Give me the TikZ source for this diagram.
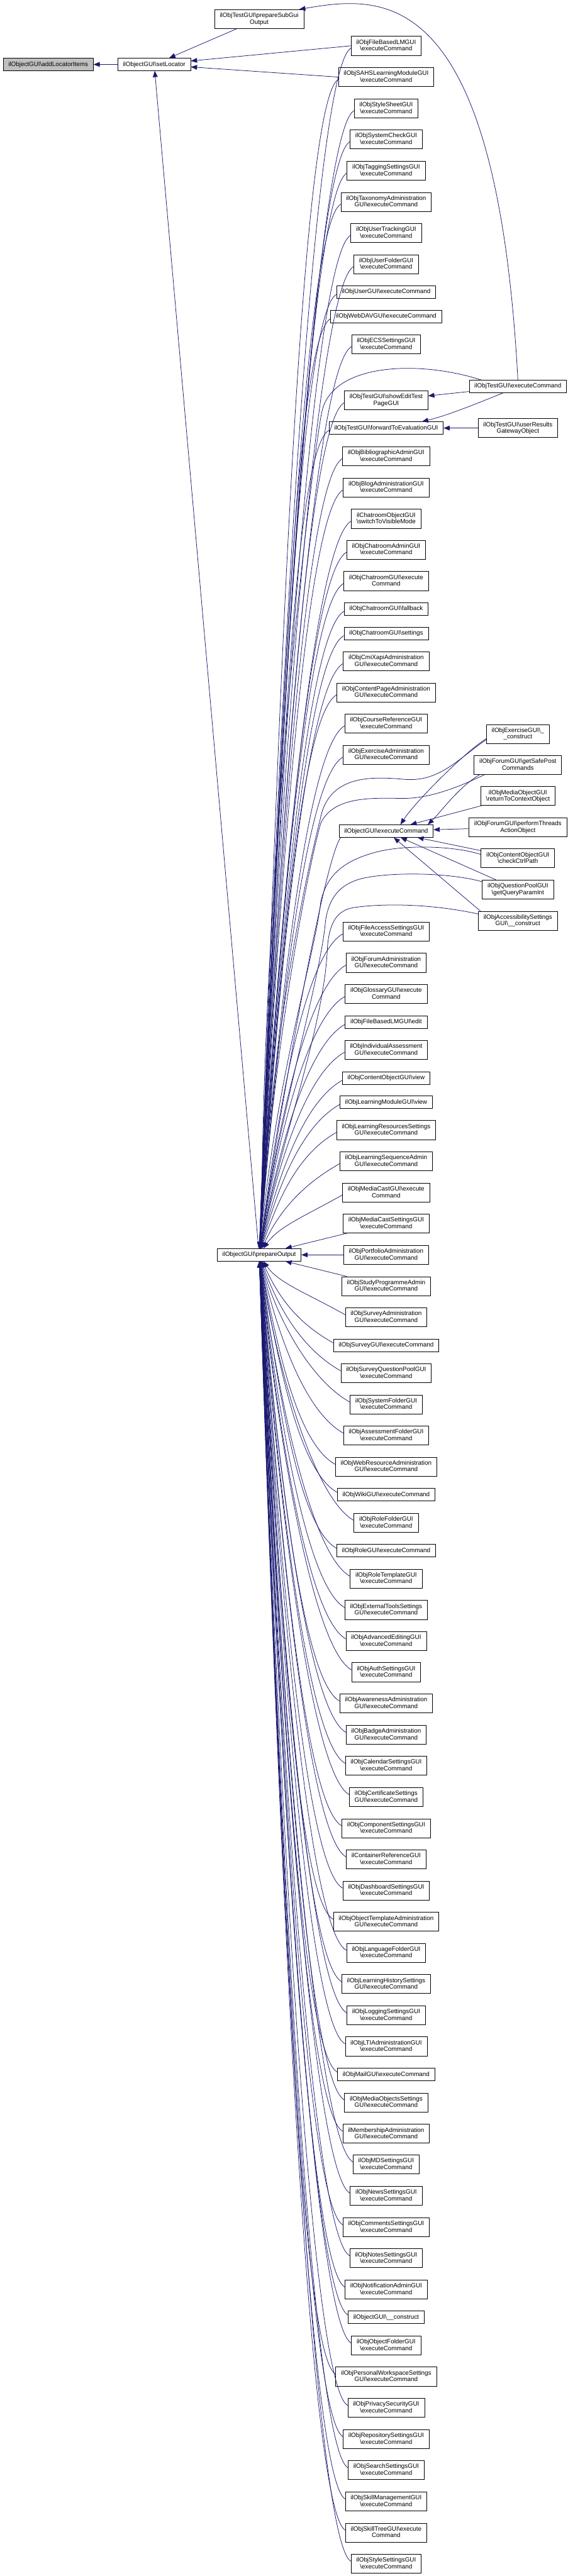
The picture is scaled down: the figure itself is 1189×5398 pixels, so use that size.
\documentclass[tikz,border=0pt]{standalone}
\usepackage{fontspec}
\setmainfont{Liberation Sans}
\usetikzlibrary{arrows.meta, calc}

\definecolor{edgeblue}{HTML}{191970}
\definecolor{startgray}{HTML}{BFBFBF}
\newcommand{\nsep}{\textbackslash}
\newcommand{\execcmd}{\textbackslash executeCommand}
\newcommand{\fnstrut}{\rule[-2.6pt]{0pt}{12.1pt}}

\tikzset{
  fn/.style={draw=black, fill=white, line width=0.9pt, align=center,
    font={\fontsize{13}{13.7}\selectfont}, inner xsep=11pt, inner ysep=7pt,
    execute at begin node=\fnstrut, execute at end node=\fnstrut},
  callarrow/.style={draw=edgeblue, line width=1pt,
    -{Triangle[length=13pt,width=10pt]}}
}

\begin{document}
\begin{tikzpicture}[x=1pt, y=-1pt]
  \useasboundingbox (0,0) rectangle (1189,5398);

  % left part
  \node[fn, fill=startgray] (additems) at (101,135) {ilObjectGUI\nsep addLocatorItems};
  \node[fn] (setloc) at (323,135) {ilObjectGUI\nsep setLocator};
  \node[fn] (prepsub) at (543,40) {ilObjTestGUI\nsep prepareSubGui\\Output};
  \node[fn] (po) at (543,2629.5) {ilObjectGUI\nsep prepareOutput};
  \node[fn] (oexec) at (809,1741.5) {ilObjectGUI\execcmd};

  % right column
  \node[fn] (testexec) at (1085,809.5) {ilObjTestGUI\execcmd};
  \node[fn] (usergw) at (1085,897) {ilObjTestGUI\nsep userResults\\GatewayObject};
  \node[fn] (exgui) at (1085,1538) {ilObjExerciseGUI\nsep\_\\\_construct};
  \node[fn] (getsafe) at (1085,1603) {ilObjForumGUI\nsep getSafePost\\Commands};
  \node[fn] (mediaobj) at (1085,1668) {ilObjMediaObjectGUI\\\nsep returnToContextObject};
  \node[fn] (perfthreads) at (1085,1733.5) {ilObjForumGUI\nsep performThreads\\ActionObject};
  \node[fn] (checkctrl) at (1085,1798.5) {ilObjContentObjectGUI\\\nsep checkCtrlPath};
  \node[fn] (qpool) at (1085,1864) {ilObjQuestionPoolGUI\\\nsep getQueryParamInt};
  \node[fn] (access) at (1085,1929.5) {ilObjAccessibilitySettings\\GUI\nsep\_\_construct};

  % middle column
  \node[fn] (fblm) at (809,96) {ilObjFileBasedLMGUI\\\execcmd};
  \node[fn] (sahs) at (809,161.5) {ilObjSAHSLearningModuleGUI\\\execcmd};
  \node[fn] (stylesheet) at (809,227) {ilObjStyleSheetGUI\\\execcmd};
  \node[fn] (syscheck) at (809,292) {ilObjSystemCheckGUI\\\execcmd};
  \node[fn] (tagging) at (809,357.5) {ilObjTaggingSettingsGUI\\\execcmd};
  \node[fn] (taxonomy) at (809,423) {ilObjTaxonomyAdministration\\GUI\execcmd};
  \node[fn] (usertrack) at (809,488) {ilObjUserTrackingGUI\\\execcmd};
  \node[fn] (userfolder) at (809,553.5) {ilObjUserFolderGUI\\\execcmd};
  \node[fn] (user) at (809,612) {ilObjUserGUI\execcmd};
  \node[fn] (webdav) at (809,663) {ilObjWebDAVGUI\execcmd};
  \node[fn] (ecs) at (809,721.5) {ilObjECSSettingsGUI\\\execcmd};
  \node[fn] (showedit) at (809,839) {ilObjTestGUI\nsep showEditTest\\PageGUI};
  \node[fn] (fwdeval) at (809,897) {ilObjTestGUI\nsep forwardToEvaluationGUI};
  \node[fn] (biblio) at (809,956) {ilObjBibliographicAdminGUI\\\execcmd};
  \node[fn] (blog) at (809,1021.5) {ilObjBlogAdministrationGUI\\\execcmd};
  \node[fn] (chatvis) at (809,1087) {ilChatroomObjectGUI\\\nsep switchToVisibleMode};
  \node[fn] (chatadmin) at (809,1152) {ilObjChatroomAdminGUI\\\execcmd};
  \node[fn] (chatexec) at (809,1217.5) {ilObjChatroomGUI\nsep execute\\Command};
  \node[fn] (chatfall) at (809,1276) {ilObjChatroomGUI\nsep fallback};
  \node[fn] (chatset) at (809,1327) {ilObjChatroomGUI\nsep settings};
  \node[fn] (cmixapi) at (809,1385.5) {ilObjCmiXapiAdministration\\GUI\execcmd};
  \node[fn] (contentpage) at (809,1451) {ilObjContentPageAdministration\\GUI\execcmd};
  \node[fn] (courseref) at (809,1516) {ilObjCourseReferenceGUI\\\execcmd};
  \node[fn] (exadmin) at (809,1581.5) {ilObjExerciseAdministration\\GUI\execcmd};
  \node[fn] (fileaccess) at (809,1952) {ilObjFileAccessSettingsGUI\\\execcmd};
  \node[fn] (forumadmin) at (809,2017.5) {ilObjForumAdministration\\GUI\execcmd};
  \node[fn] (glossary) at (809,2083) {ilObjGlossaryGUI\nsep execute\\Command};
  \node[fn] (fblmedit) at (809,2141.5) {ilObjFileBasedLMGUI\nsep edit};
  \node[fn] (indass) at (809,2200) {ilObjIndividualAssessment\\GUI\execcmd};
  \node[fn] (coview) at (809,2259) {ilObjContentObjectGUI\nsep view};
  \node[fn] (lmview) at (809,2309.5) {ilObjLearningModuleGUI\nsep view};
  \node[fn] (lrsettings) at (809,2368) {ilObjLearningResourcesSettings\\GUI\execcmd};
  \node[fn] (lsadmin) at (809,2433.5) {ilObjLearningSequenceAdmin\\GUI\execcmd};
  \node[fn] (mediacast) at (809,2499) {ilObjMediaCastGUI\nsep execute\\Command};
  \node[fn] (mediacastset) at (809,2564) {ilObjMediaCastSettingsGUI\\\execcmd};
  \node[fn] (portfolio) at (809,2629.5) {ilObjPortfolioAdministration\\GUI\execcmd};
  \node[fn] (studyprog) at (809,2695) {ilObjStudyProgrammeAdmin\\GUI\execcmd};
  \node[fn] (surveyadmin) at (809,2760) {ilObjSurveyAdministration\\GUI\execcmd};
  \node[fn] (survey) at (809,2819) {ilObjSurveyGUI\execcmd};
  \node[fn] (surveyqp) at (809,2877.5) {ilObjSurveyQuestionPoolGUI\\\execcmd};
  \node[fn] (sysfolder) at (809,2943) {ilObjSystemFolderGUI\\\execcmd};
  \node[fn] (assfolder) at (809,3008) {ilObjAssessmentFolderGUI\\\execcmd};
  \node[fn] (webres) at (809,3073.5) {ilObjWebResourceAdministration\\GUI\execcmd};
  \node[fn] (wiki) at (809,3132) {ilObjWikiGUI\execcmd};
  \node[fn] (rolefolder) at (809,3191) {ilObjRoleFolderGUI\\\execcmd};
  \node[fn] (role) at (809,3249.5) {ilObjRoleGUI\execcmd};
  \node[fn] (roletpl) at (809,3308) {ilObjRoleTemplateGUI\\\execcmd};
  \node[fn] (exttools) at (809,3373.5) {ilObjExternalToolsSettings\\GUI\execcmd};
  \node[fn] (advedit) at (809,3439) {ilObjAdvancedEditingGUI\\\execcmd};
  \node[fn] (auth) at (809,3504) {ilObjAuthSettingsGUI\\\execcmd};
  \node[fn] (awareness) at (809,3569.5) {ilObjAwarenessAdministration\\GUI\execcmd};
  \node[fn] (badge) at (809,3635) {ilObjBadgeAdministration\\GUI\execcmd};
  \node[fn] (calendar) at (809,3700) {ilObjCalendarSettingsGUI\\\execcmd};
  \node[fn] (certificate) at (809,3765.5) {ilObjCertificateSettings\\GUI\execcmd};
  \node[fn] (component) at (809,3831) {ilObjComponentSettingsGUI\\\execcmd};
  \node[fn] (contref) at (809,3896) {ilContainerReferenceGUI\\\execcmd};
  \node[fn] (dashboard) at (809,3961.5) {ilObjDashboardSettingsGUI\\\execcmd};
  \node[fn] (objtpl) at (809,4027) {ilObjObjectTemplateAdministration\\GUI\execcmd};
  \node[fn] (langfolder) at (809,4092) {ilObjLanguageFolderGUI\\\execcmd};
  \node[fn] (lhist) at (809,4157.5) {ilObjLearningHistorySettings\\GUI\execcmd};
  \node[fn] (logging) at (809,4223) {ilObjLoggingSettingsGUI\\\execcmd};
  \node[fn] (lti) at (809,4288) {ilObjLTIAdministrationGUI\\\execcmd};
  \node[fn] (mail) at (809,4347) {ilObjMailGUI\execcmd};
  \node[fn] (mobsettings) at (809,4405.5) {ilObjMediaObjectsSettings\\GUI\execcmd};
  \node[fn] (membership) at (809,4471) {ilMembershipAdministration\\GUI\execcmd};
  \node[fn] (mdsettings) at (809,4535.5) {ilObjMDSettingsGUI\\\execcmd};
  \node[fn] (news) at (809,4601) {ilObjNewsSettingsGUI\\\execcmd};
  \node[fn] (comments) at (809,4667) {ilObjCommentsSettingsGUI\\\execcmd};
  \node[fn] (notes) at (809,4732) {ilObjNotesSettingsGUI\\\execcmd};
  \node[fn] (notification) at (809,4797.5) {ilObjNotificationAdminGUI\\\execcmd};
  \node[fn] (oconstruct) at (809,4856) {ilObjectGUI\nsep\_\_construct};
  \node[fn] (objfolder) at (809,4915) {ilObjObjectFolderGUI\\\execcmd};
  \node[fn] (workspace) at (809,4980) {ilObjPersonalWorkspaceSettings\\GUI\execcmd};
  \node[fn] (privacy) at (809,5045.5) {ilObjPrivacySecurityGUI\\\execcmd};
  \node[fn] (repository) at (809,5111) {ilObjRepositorySettingsGUI\\\execcmd};
  \node[fn] (search) at (809,5176) {ilObjSearchSettingsGUI\\\execcmd};
  \node[fn] (skillmgmt) at (809,5241.5) {ilObjSkillManagementGUI\\\execcmd};
  \node[fn] (skilltree) at (809,5307) {ilObjSkillTreeGUI\nsep execute\\Command};
  \node[fn] (stylesettings) at (809,5372) {ilObjStyleSettingsGUI\\\execcmd};

  % callers above prepareOutput
  \foreach \nm in {fblm, sahs, stylesheet, syscheck, tagging, taxonomy, usertrack,
    userfolder, user, webdav, ecs, showedit, fwdeval, biblio, blog, chatvis, chatadmin,
    chatexec, chatfall, chatset, cmixapi, contentpage, courseref, exadmin, fileaccess,
    forumadmin, glossary, fblmedit, indass, coview, lmview, lrsettings, lsadmin, mediacast}
    \draw[callarrow] ($(\nm.west)+(0,5)$) .. controls ($(\nm.west)+(-80,50)$)
      and ($(po.center)!0.45!(\nm.west -| po.east)$) .. (po);

  % callers below prepareOutput
  \foreach \nm in {surveyadmin, survey, surveyqp, sysfolder, assfolder, webres, wiki,
    rolefolder, role, roletpl, exttools, advedit, auth, awareness, badge, calendar,
    certificate, component, contref, dashboard, objtpl, langfolder, lhist, logging, lti,
    mail, mobsettings, membership, mdsettings, news, comments, notes, notification,
    oconstruct, objfolder, workspace, privacy, repository, search, skillmgmt, skilltree,
    stylesettings}
    \draw[callarrow] ($(\nm.west)+(0,-5)$) .. controls ($(\nm.west)+(-80,-50)$)
      and ($(po.center)!0.45!(\nm.west -| po.east)$) .. (po);

  % close neighbours
  \foreach \nm in {mediacastset, portfolio, studyprog}
    \draw[callarrow] (\nm) -- (po);

  % setLocator and its callers
  \draw[callarrow] (setloc) -- (additems);
  \draw[callarrow] (prepsub) -- (setloc);
  \draw[callarrow] (fblm.west) -- (setloc);
  \draw[callarrow] (sahs.west) -- (setloc);
  \draw[callarrow] (po) -- (setloc);

  % ilObjTestGUI
  \draw[callarrow] (testexec.north) .. controls (1040,-40) and (800,-10) .. ([xshift=-10pt]prepsub.north east);
  \draw[callarrow] (testexec) -- (showedit);
  \draw[callarrow] ([xshift=-30pt]testexec.south) .. controls (1000,845) and (940,870) .. ([xshift=-45pt]fwdeval.north east);
  \draw[callarrow] (usergw) -- (fwdeval);
  \draw[callarrow] ([xshift=25pt]testexec.north west) .. controls (880,755) and (700,760) .. (675,860)
    .. controls (660,920) and (548,1800) .. ([xshift=5pt]po.north);

  % ilObjectGUI::executeCommand
  \draw[callarrow] ([yshift=-10pt]exgui.west) .. controls (975,1575) and (870,1680) .. ([xshift=30pt]oexec.north);
  \draw[callarrow] ([xshift=12pt]getsafe.south west) .. controls (960,1650) and (925,1700) .. ([xshift=-12pt]oexec.north east);
  \draw[callarrow] (mediaobj) -- (oexec);
  \draw[callarrow] (perfthreads) -- (oexec);
  \draw[callarrow] (checkctrl) -- (oexec);
  \draw[callarrow] (qpool) -- (oexec);
  \draw[callarrow] ([xshift=5pt]access.north west) -- (oexec);
  \draw[callarrow] ([xshift=4pt]oexec.south west) .. controls (680,1800) and (590,2300) .. (po);

  % right column into prepareOutput
  \draw[callarrow] ([yshift=-12pt]exgui.west) .. controls (960,1590) and (920,1640) .. (846,1633)
    .. controls (780,1627) and (700,1625) .. (675,1700) .. controls (655,1780) and (575,2100) .. (po);
  \draw[callarrow] ([xshift=22pt]getsafe.south west) .. controls (960,1650) and (900,1673) .. (846,1673)
    .. controls (790,1673) and (700,1665) .. (672,1725) .. controls (650,1800) and (578,2150) .. (po);
  \draw[callarrow] ([yshift=8pt]checkctrl.west) .. controls (950,1772) and (850,1770) .. (790,1785)
    .. controls (725,1802) and (685,1830) .. (672,1890) .. controls (660,2000) and (580,2250) .. (po);
  \draw[callarrow] ([yshift=-4pt]qpool.north west) .. controls (950,1830) and (830,1826) .. (762,1840)
    .. controls (718,1850) and (690,1875) .. (682,1930) .. controls (672,2050) and (582,2350) .. (po);
  \draw[callarrow] ([yshift=-6pt]access.north west) .. controls (900,1893) and (800,1893) .. (740,1902)
    .. controls (705,1908) and (690,1935) .. (686,1985) .. controls (680,2150) and (585,2400) .. (po);
\end{tikzpicture}
\end{document}
